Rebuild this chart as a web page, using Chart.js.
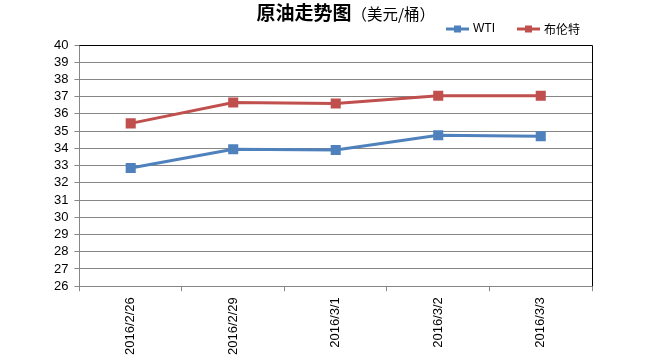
<!DOCTYPE html>
<html><head><meta charset="utf-8">
<script src="https://cdn.jsdelivr.net/npm/chart.js@4/dist/chart.umd.min.js"></script>
<style>html,body{margin:0;padding:0;background:#fff;}#wrap{width:650px;height:361px;}</style>
</head><body><div id="wrap"><canvas id="c"></canvas></div>
<script>
const categories = ['2016/2/26','2016/2/29','2016/3/1','2016/3/2','2016/3/3'];
const wti = [32.86, 33.95, 33.9, 34.76, 34.7];
const brent = [35.45, 36.66, 36.6, 37.05, 37.05];
const seriesNames = ['WTI','布伦特'];
const titleMain = '原油走势图';
const titleUnit = '（美元/桶）';
const yMin = 26, yMax = 40;

const FONT = '"Liberation Sans", Arial, sans-serif';
const CJK = '"Noto Sans CJK SC", sans-serif';

const decor = {
  id: 'decor',
  afterDraw(chart) {
    const ctx = chart.ctx, a = chart.chartArea;
    ctx.save();
    // top & right border
    ctx.strokeStyle = '#000'; ctx.lineWidth = 1;
    ctx.beginPath();
    ctx.moveTo(a.left, a.top + 0.5); ctx.lineTo(a.right + 0.5, a.top + 0.5);
    ctx.lineTo(a.right + 0.5, a.bottom);
    ctx.stroke();
    // title
    ctx.textBaseline = 'middle';
    ctx.fillStyle = '#000';
    ctx.font = 'bold 19px ' + CJK;
    const w1 = ctx.measureText(titleMain).width;
    ctx.font = '15.5px ' + CJK;
    const w2 = ctx.measureText(titleUnit).width;
    const cx = (a.left + a.right) / 2 + 10;
    let x = cx - (w1 + w2) / 2;
    ctx.textAlign = 'left';
    ctx.font = 'bold 19px ' + CJK;
    ctx.fillText(titleMain, x, 13);
    ctx.font = '15.5px ' + CJK;
    ctx.fillText(titleUnit, x + w1, 14);
    // legend
    const items = chart.data.datasets;
    const ly = 29;
    let lx = a.right - 146;
    const spacing = [71, 0];
    items.forEach((ds, i) => {
      ctx.strokeStyle = ds.borderColor; ctx.lineWidth = 3;
      ctx.beginPath(); ctx.moveTo(lx, ly); ctx.lineTo(lx + 23, ly); ctx.stroke();
      ctx.fillStyle = ds.borderColor;
      ctx.fillRect(lx + 8, ly - 3.5, 7, 7);
      ctx.fillStyle = '#000';
      ctx.font = (i === 0 ? '12px ' + FONT : '12px ' + CJK);
      ctx.textAlign = 'left';
      ctx.fillText(ds.label, lx + 27, ly);
      lx += spacing[i];
    });
    ctx.restore();
  }
};

new Chart(document.getElementById('c'), {
  type: 'line',
  data: {
    labels: categories,
    datasets: [
      { label: seriesNames[0], data: wti, borderColor: '#4F81BD', backgroundColor: '#4F81BD',
        borderWidth: 3, pointStyle: 'rect', pointRadius: 5, pointHoverRadius: 5, tension: 0 },
      { label: seriesNames[1], data: brent, borderColor: '#C0504D', backgroundColor: '#C0504D',
        borderWidth: 3, pointStyle: 'rect', pointRadius: 5, pointHoverRadius: 5, tension: 0 }
    ]
  },
  options: {
    responsive: true, maintainAspectRatio: false, animation: false,
    layout: { padding: { top: 45, right: 58, left: 48, bottom: 0 } },
    plugins: { legend: { display: false }, title: { display: false }, tooltip: { enabled: false } },
    scales: {
      x: {
        offset: true,
        grid: { drawOnChartArea: false, drawTicks: true, tickLength: 5, color: '#868686', offset: true },
        border: { color: '#868686', width: 1 },
        ticks: { color: '#000', font: { family: FONT, size: 13 }, minRotation: 90, maxRotation: 90, padding: 6, autoSkip: false }
      },
      y: {
        min: yMin, max: yMax,
        grid: { color: '#868686', lineWidth: 1, tickLength: 5 },
        border: { color: '#868686', width: 1 },
        ticks: { stepSize: 1, autoSkip: false, color: '#000', font: { family: FONT, size: 13 }, padding: 6 }
      }
    }
  },
  plugins: [decor]
});
</script></body></html>
